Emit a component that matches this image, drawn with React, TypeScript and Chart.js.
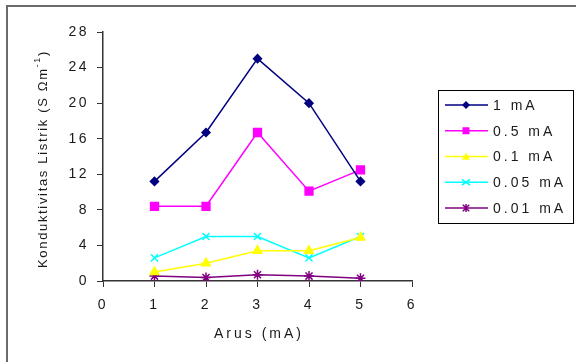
import React, { useEffect, useRef } from 'react';
import { Chart, registerables } from 'chart.js';

Chart.register(...registerables);

// ---- data ----
const arus = [1, 2, 3, 4, 5];
const seriesNames = ['1 mA', '0.5 mA', '0.1 mA', '0.05 mA', '0.01 mA'];
const s1mA = [11.2, 16.7, 25.0, 20.0, 11.2];
const s05mA = [8.4, 8.4, 16.7, 10.1, 12.5];
const s01mA = [1.0, 2.0, 3.4, 3.4, 4.9];
const s005mA = [2.6, 5.0, 5.0, 2.6, 5.0];
const s001mA = [0.55, 0.4, 0.7, 0.55, 0.3];
const xTickValues = [0, 1, 2, 3, 4, 5, 6];
const yTickValues = [0, 4, 8, 12, 16, 20, 24, 28];
const xTitle = 'Arus (mA)';
const yTitleMain = 'Konduktivitas Listrik (S \u03A9m';
const yTitleSup = '-1';
const yTitleEnd = ')';

// ---- styles ----
const colors = ['#000080', '#FF00FF', '#FFFF00', '#00FFFF', '#800080'];
const pointStyles = ['rectRot', 'rect', 'triangle', 'crossRot', 'star'];
const pointRadii = [4, 5.5, 5, 5, 5];
const FONT = '"Liberation Sans", Arial, sans-serif';

function drawMarker(ctx: CanvasRenderingContext2D, style: string, x: number, y: number, r: number, color: string) {
  ctx.save();
  ctx.fillStyle = color;
  ctx.strokeStyle = color;
  ctx.lineWidth = 1.5;
  ctx.beginPath();
  if (style === 'rectRot') {
    ctx.moveTo(x, y - r); ctx.lineTo(x + r, y); ctx.lineTo(x, y + r); ctx.lineTo(x - r, y); ctx.closePath(); ctx.fill();
  } else if (style === 'rect') {
    ctx.rect(x - r, y - r, 2 * r, 2 * r); ctx.fill();
  } else if (style === 'triangle') {
    ctx.moveTo(x, y - r); ctx.lineTo(x + r, y + r * 0.8); ctx.lineTo(x - r, y + r * 0.8); ctx.closePath(); ctx.fill();
  } else if (style === 'crossRot') {
    ctx.moveTo(x - r, y - r * 0.7); ctx.lineTo(x + r, y + r * 0.7);
    ctx.moveTo(x - r, y + r * 0.7); ctx.lineTo(x + r, y - r * 0.7);
    ctx.stroke();
  } else if (style === 'star') {
    ctx.moveTo(x - r * 0.8, y - r * 0.8); ctx.lineTo(x + r * 0.8, y + r * 0.8);
    ctx.moveTo(x - r * 0.8, y + r * 0.8); ctx.lineTo(x + r * 0.8, y - r * 0.8);
    ctx.moveTo(x, y - r); ctx.lineTo(x, y + r);
    ctx.stroke();
  }
  ctx.restore();
}

const decorPlugin = {
  id: 'decor',
  beforeDraw(chart: any) {
    const ctx = chart.ctx as CanvasRenderingContext2D;
    (ctx as any).letterSpacing = '2.5px';
    ctx.save();
    ctx.fillStyle = '#ffffff';
    ctx.fillRect(0, 0, chart.width, chart.height);
    // outer frame (top and left)
    ctx.fillStyle = '#6b6b6b';
    ctx.fillRect(6, 5, chart.width - 6, 2);
    ctx.fillRect(6, 5, 2, chart.height - 5);
    ctx.restore();
  },
  afterDraw(chart: any) {
    const ctx = chart.ctx as CanvasRenderingContext2D;
    const area = chart.chartArea;
    ctx.save();
    ctx.fillStyle = '#1a1a1a';

    // x title
    (ctx as any).letterSpacing = '3px';
    ctx.font = `14px ${FONT}`;
    ctx.textAlign = 'center';
    ctx.textBaseline = 'middle';
    ctx.fillText(xTitle, (area.left + area.right) / 2 + 1.5, 334);

    // y title (rotated)
    ctx.save();
    (ctx as any).letterSpacing = '0px';
    ctx.font = `13px ${FONT}`;
    const wMain = ctx.measureText(yTitleMain).width + ctx.measureText(yTitleEnd).width;
    ctx.font = `9px ${FONT}`;
    const wSup = ctx.measureText(yTitleSup).width;
    const nChars = yTitleMain.length + yTitleEnd.length + yTitleSup.length;
    const target = 218;
    const sp = Math.max(0, (target - wMain - wSup) / nChars);
    ctx.translate(43, 268);
    ctx.rotate(-Math.PI / 2);
    ctx.textAlign = 'left';
    ctx.textBaseline = 'middle';
    (ctx as any).letterSpacing = `${sp}px`;
    ctx.font = `13px ${FONT}`;
    ctx.fillText(yTitleMain, 0, 0);
    let px = ctx.measureText(yTitleMain).width;
    ctx.font = `9px ${FONT}`;
    ctx.fillText(yTitleSup, px, -5);
    px += ctx.measureText(yTitleSup).width;
    ctx.font = `13px ${FONT}`;
    ctx.fillText(yTitleEnd, px, 0);
    ctx.restore();

    // legend
    const lx = 438, ly = 90, lw = 135, lh = 133;
    ctx.strokeStyle = '#000000';
    ctx.lineWidth = 1;
    ctx.strokeRect(lx + 0.5, ly + 0.5, lw, lh);
    const rowH = 25.75;
    const firstY = 105;
    ctx.font = `14px ${FONT}`;
    (ctx as any).letterSpacing = '3px';
    ctx.textAlign = 'left';
    ctx.textBaseline = 'middle';
    chart.data.datasets.forEach((ds: any, i: number) => {
      const y = firstY + i * rowH;
      ctx.strokeStyle = colors[i];
      ctx.lineWidth = 1.5;
      ctx.beginPath();
      ctx.moveTo(445, y);
      ctx.lineTo(488, y);
      ctx.stroke();
      drawMarker(ctx, pointStyles[i], 466, y, i === 1 ? 3.5 : 4, colors[i]);
      ctx.fillStyle = '#1a1a1a';
      ctx.fillText(ds.label, 493, y + 1);
    });
    ctx.restore();
  },
};

export default function App() {
  const ref = useRef<HTMLCanvasElement | null>(null);
  useEffect(() => {
    document.body.style.margin = '0';
    const canvas = ref.current;
    if (!canvas) return;
    const values = [s1mA, s05mA, s01mA, s005mA, s001mA];
    const chart = new Chart(canvas, {
      type: 'line',
      data: {
        datasets: values.map((vals, i) => ({
          label: seriesNames[i],
          data: arus.map((x, j) => ({ x, y: vals[j] })),
          borderColor: colors[i],
          backgroundColor: colors[i],
          borderWidth: 1.5,
          pointStyle: pointStyles[i] as any,
          pointRadius: pointRadii[i],
          pointBorderWidth: 1.5,
          pointBorderColor: colors[i],
          pointBackgroundColor: colors[i],
          tension: 0,
          fill: false,
        })),
      },
      options: {
        responsive: false,
        animation: false,
        events: [],
        layout: { padding: { left: 0, right: 164, top: 32, bottom: 0 } },
        plugins: { legend: { display: false }, tooltip: { enabled: false }, title: { display: false } },
        scales: {
          x: {
            type: 'linear',
            min: 0,
            max: 6,
            afterFit: (s: any) => { s.height = 81; },
            afterBuildTicks: (s: any) => { s.ticks = xTickValues.map((v) => ({ value: v })); },
            grid: { display: true, drawOnChartArea: false, drawTicks: true, tickLength: 6, color: '#333333' },
            border: { display: true, color: '#333333', width: 1.5 },
            ticks: { color: '#1a1a1a', font: { family: FONT, size: 14 }, padding: 10, maxRotation: 0 },
          },
          y: {
            type: 'linear',
            min: 0,
            max: 28,
            afterFit: (s: any) => { s.width = 103; },
            afterBuildTicks: (s: any) => { s.ticks = yTickValues.map((v) => ({ value: v })); },
            grid: { display: true, drawOnChartArea: false, drawTicks: true, tickLength: 6, color: '#333333' },
            border: { display: true, color: '#333333', width: 1.5 },
            ticks: { color: '#1a1a1a', font: { family: FONT, size: 14 }, padding: 8 },
          },
        },
      },
      plugins: [decorPlugin],
    });
    return () => chart.destroy();
  }, []);
  return <canvas ref={ref} width={576} height={362} style={{ display: 'block' }} />;
}
